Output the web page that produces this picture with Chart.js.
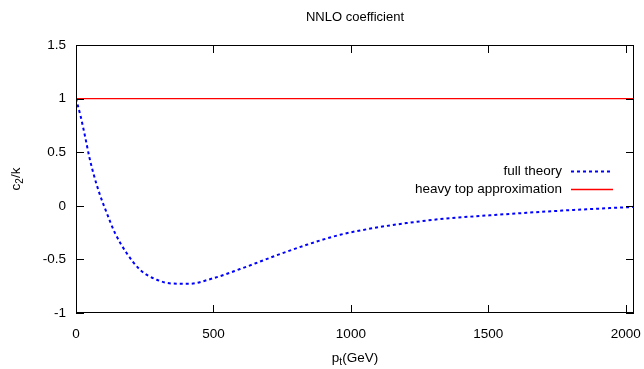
<!DOCTYPE html>
<html>
<head>
<meta charset="utf-8">
<script src="https://cdn.jsdelivr.net/npm/chart.js@4/dist/chart.umd.min.js"></script>
<style>
  html, body { margin: 0; padding: 0; background: #fff; }
  #wrap { width: 644px; height: 369px; position: relative; }
</style>
</head>
<body>
<div id="wrap"><canvas id="nnlo"></canvas></div>
<script>
// values
const ptValues = [0, 17, 33, 48, 63, 85, 112, 142, 184, 233, 294, 350, 409, 500, 597, 670, 718, 839, 961, 1082, 1203, 1325, 1531, 1773, 2030];
const fullTheory = [1, 0.833, 0.647, 0.46, 0.305, 0.118, -0.068, -0.255, -0.44, -0.597, -0.69, -0.725, -0.728, -0.675, -0.59, -0.52, -0.473, -0.364, -0.27, -0.208, -0.161, -0.124, -0.084, -0.044, -0.01];
const heavyTopX = [0, 2030];
const heavyTop = [1, 1];
const xTicks = [0, 500, 1000, 1500, 2000];
const yTicks = [-1, -0.5, 0, 0.5, 1, 1.5];
const seriesLabels = ['full theory', 'heavy top approximation'];

const FONT = '"Liberation Sans", Arial, Helvetica, sans-serif';
const fontPx = 13.5;

function toPoints(xs, ys) {
  return xs.map((x, i) => ({ x, y: ys[i] }));
}

// gnuplot-like frame, inward ticks, title, axis titles and in-plot key
const gnuFrame = {
  id: 'gnuFrame',
  afterDraw(chart) {
    const { ctx, chartArea: a, scales } = chart;
    const xs = scales.x, ys = scales.y;
    const tl = 8;
    ctx.save();
    ctx.strokeStyle = '#000';
    ctx.lineWidth = 1;
    ctx.strokeRect(Math.round(a.left) + 0.5, Math.round(a.top) + 0.5,
      Math.round(a.right - a.left) - 1, Math.round(a.bottom - a.top) - 1);
    ctx.beginPath();
    xTicks.forEach(v => {
      const px = Math.round(xs.getPixelForValue(v)) + 0.5;
      ctx.moveTo(px, a.bottom); ctx.lineTo(px, a.bottom - tl);
      ctx.moveTo(px, a.top); ctx.lineTo(px, a.top + tl);
    });
    yTicks.forEach(v => {
      const py = Math.round(ys.getPixelForValue(v)) + 0.5;
      ctx.moveTo(a.left, py); ctx.lineTo(a.left + tl, py);
      ctx.moveTo(a.right, py); ctx.lineTo(a.right - tl, py);
    });
    ctx.stroke();

    ctx.fillStyle = '#000';
    ctx.font = `13px ${FONT}`;
    ctx.textAlign = 'center';
    ctx.textBaseline = 'middle';
    const cx = (a.left + a.right) / 2;
    ctx.fillText('NNLO coefficient', cx, 17);

    // x title p_t(GeV)
    ctx.font = `${fontPx}px ${FONT}`;
    const subFont = `10px ${FONT}`;
    const wp = ctx.measureText('p').width;
    ctx.font = subFont;
    const wt = ctx.measureText('t').width;
    ctx.font = `${fontPx}px ${FONT}`;
    const wr = ctx.measureText('(GeV)').width;
    let sx = cx - (wp + wt + wr) / 2;
    const ty = 358;
    ctx.textAlign = 'left';
    ctx.fillText('p', sx, ty);
    ctx.font = subFont;
    ctx.fillText('t', sx + wp, ty + 4);
    ctx.font = `${fontPx}px ${FONT}`;
    ctx.fillText('(GeV)', sx + wp + wt, ty);

    // y title c_2/k
    ctx.save();
    ctx.translate(16, (a.top + a.bottom) / 2);
    ctx.rotate(-Math.PI / 2);
    const wc = ctx.measureText('c').width;
    ctx.font = subFont;
    const w2 = ctx.measureText('2').width;
    ctx.font = `${fontPx}px ${FONT}`;
    const wk = ctx.measureText('/k').width;
    sx = -(wc + w2 + wk) / 2;
    ctx.fillText('c', sx, 0);
    ctx.font = subFont;
    ctx.fillText('2', sx + wc, 4);
    ctx.font = `${fontPx}px ${FONT}`;
    ctx.fillText('/k', sx + wc + w2, 0);
    ctx.restore();

    // key
    ctx.textAlign = 'right';
    const rows = [171, 189];
    chart.data.datasets.forEach((ds, i) => {
      const y = rows[i];
      ctx.fillStyle = '#000';
      ctx.fillText(ds.label, 562, y);
      ctx.save();
      ctx.strokeStyle = ds.borderColor;
      ctx.lineWidth = ds.borderWidth;
      ctx.setLineDash(ds.borderDash || []);
      ctx.beginPath();
      ctx.moveTo(571, y + 0.5);
      ctx.lineTo(613, y + 0.5);
      ctx.stroke();
      ctx.restore();
    });
    ctx.restore();
  }
};

new Chart(document.getElementById('nnlo'), {
  type: 'scatter',
  data: {
    datasets: [
      {
        label: seriesLabels[0],
        data: toPoints(ptValues, fullTheory),
        showLine: true,
        borderColor: '#0000ff',
        borderWidth: 2,
        borderDash: [3, 3],
        pointRadius: 0,
        cubicInterpolationMode: 'monotone'
      },
      {
        label: seriesLabels[1],
        data: toPoints(heavyTopX, heavyTop),
        showLine: true,
        borderColor: '#ff0000',
        borderWidth: 1.3,
        pointRadius: 0
      }
    ]
  },
  options: {
    responsive: true,
    maintainAspectRatio: false,
    animation: false,
    layout: { padding: { top: 45, right: 10, left: 0, bottom: 0 } },
    plugins: {
      legend: { display: false },
      title: { display: false },
      tooltip: { enabled: false }
    },
    scales: {
      x: {
        type: 'linear',
        min: 0,
        max: 2030,
        afterBuildTicks: axis => { axis.ticks = xTicks.map(v => ({ value: v })); },
        afterFit: axis => { axis.height = 56; axis.paddingLeft = 0; axis.paddingRight = 0; },
        grid: { display: false, drawTicks: false },
        border: { display: false },
        ticks: {
          padding: 13,
          color: '#000',
          maxRotation: 0,
          font: { family: FONT, size: fontPx },
          callback: v => String(v)
        }
      },
      y: {
        type: 'linear',
        min: -1,
        max: 1.5,
        afterBuildTicks: axis => { axis.ticks = yTicks.map(v => ({ value: v })); },
        afterFit: axis => { axis.width = 76; axis.paddingTop = 0; axis.paddingBottom = 0; },
        grid: { display: false, drawTicks: false },
        border: { display: false },
        ticks: {
          padding: 10,
          color: '#000',
          font: { family: FONT, size: fontPx },
          callback: v => String(v)
        }
      }
    }
  },
  plugins: [gnuFrame]
});
</script>
</body>
</html>
